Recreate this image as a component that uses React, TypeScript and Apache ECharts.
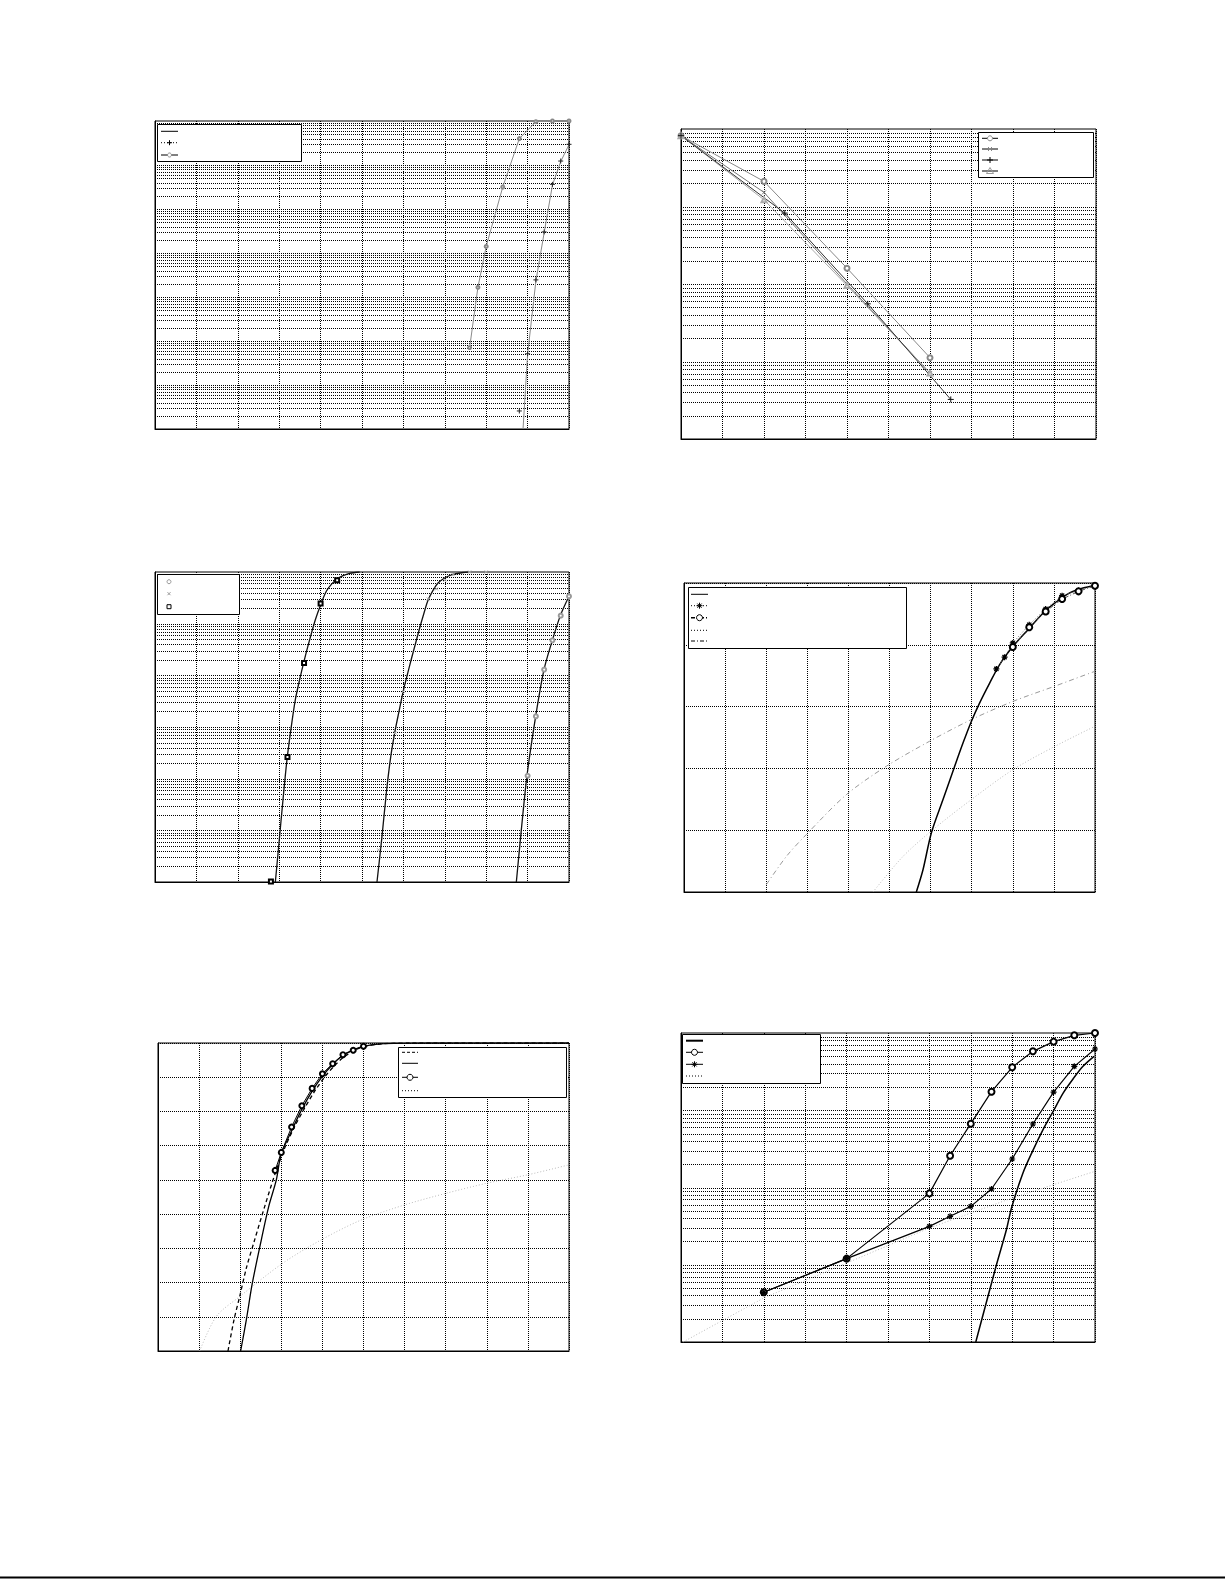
import React, { useEffect, useRef } from "react";
import * as echarts from "echarts";

// ---------- Panel 1 (top-left, log y 1e-7..1) ----------
const p1TheoryX = [8.89, 9.0, 9.2, 9.4, 9.6, 9.8, 10.0];
const p1TheoryY = [1e-7, 5.0e-6, 2.3e-4, 2.9e-3, 3.5e-2, 0.12, 0.29];
const p1SimX = [8.8, 9.0, 9.2, 9.4, 9.6, 9.8, 10.0];
const p1SimY = [2.57e-7, 5.13e-6, 2.45e-4, 3.02e-3, 3.63e-2, 0.123, 0.295];
const p1RefX = [7.6, 7.8, 8.0, 8.4, 8.8, 9.2, 9.6, 10.0];
const p1RefY = [7.08e-6, 1.66e-4, 1.41e-3, 3.16e-2, 0.398, 0.966, 1.0, 1.0];

// ---------- Panel 2 (top-right, log y 1e-4..1) ----------
const p2CircX = [0, 2, 4, 6];
const p2CircY = [0.82, 0.211, 0.016, 1.12e-3];
const p2CrossX = [0, 2, 4, 6];
const p2CrossY = [0.82, 0.152, 0.01, 7.08e-4];
const p2PlusX = [0, 2.5, 4.5, 6.5];
const p2PlusY = [0.82, 0.0822, 5.55e-3, 3.24e-4];
const p2TriX = [0, 2, 4, 6];
const p2TriY = [0.82, 0.122, 9.55e-3, 7.08e-4];

// ---------- Panel 3 (mid-left, log y 1e-6..1) ----------
const p3C1X = [2.907, 2.995, 3.092, 3.188, 3.293, 3.39, 3.494, 3.599, 3.736, 3.873, 4.002, 4.138, 4.275, 4.404, 4.541, 4.702, 4.944];
const p3C1Y = [1e-6, 5.69e-6, 3.93e-5, 2.33e-4, 1.03e-3, 3.38e-3, 8.24e-3, 1.87e-2, 4.9e-2, 0.119, 0.233, 0.423, 0.594, 0.733, 0.849, 0.942, 1.0];
const p3SqX = [2.8, 3.2, 3.6, 4.0, 4.4];
const p3SqY = [1.02e-6, 2.63e-4, 1.74e-2, 0.245, 0.692];
const p3C2X = [5.362, 5.483, 5.588, 5.684, 5.789, 5.894, 5.99, 6.095, 6.192, 6.296, 6.393, 6.498, 6.594, 6.715, 6.836, 6.997, 7.198, 7.56];
const p3C2Y = [1e-6, 7.66e-6, 5.28e-5, 2.33e-4, 7.66e-4, 2.01e-3, 4.69e-3, 1.03e-2, 2.07e-2, 4.23e-2, 8.24e-2, 0.161, 0.283, 0.442, 0.612, 0.766, 0.902, 1.0];
const p3XmX = [5.4, 5.8, 6.0, 6.6, 6.8, 7.0, 7.2, 7.6, 8.0];
const p3XmY = [4.2e-6, 7.66e-4, 4.9e-3, 0.3, 0.47, 0.69, 0.89, 1.0, 1.0];
const p3C3X = [8.728, 8.849, 8.985, 9.195, 9.396, 9.597, 9.791, 10.0];
const p3C3Y = [1e-6, 1.03e-5, 1.14e-4, 1.61e-3, 1.29e-2, 4.75e-2, 0.143, 0.338];
const p3CircX = [9.0, 9.2, 9.4, 9.6, 9.8, 10.0];
const p3CircY = [1.14e-4, 1.61e-3, 1.29e-2, 4.75e-2, 0.143, 0.338];

// ---------- Panel 4 (mid-right, linear y 0..1) ----------
const p4TheoryX = [5.653, 5.815, 6.018, 6.302, 6.586, 6.788, 6.991, 7.194, 7.437, 7.68, 8.005, 8.37, 8.775, 9.019, 9.384, 9.708, 9.992];
const p4TheoryY = [0.0, 0.072, 0.191, 0.299, 0.407, 0.482, 0.552, 0.612, 0.676, 0.736, 0.795, 0.849, 0.908, 0.935, 0.968, 0.984, 0.991];
const p4StarX = [7.6, 7.8, 8.0, 8.4, 8.8, 9.2, 9.6, 10.0];
const p4StarY = [0.722, 0.76, 0.806, 0.865, 0.916, 0.959, 0.976, 0.991];
const p4CircX = [8.0, 8.4, 8.8, 9.2, 9.6, 10.0];
const p4CircY = [0.793, 0.857, 0.908, 0.948, 0.973, 0.991];
const p4DotX = [4.599, 5.328, 6.058, 6.991, 8.005, 9.019, 9.992];
const p4DotY = [0.0, 0.115, 0.202, 0.299, 0.396, 0.471, 0.536];
const p4DashDotX = [2.003, 2.49, 2.976, 3.95, 4.923, 5.977, 6.991, 8.005, 9.019, 9.992];
const p4DashDotY = [0.024, 0.115, 0.186, 0.315, 0.407, 0.488, 0.558, 0.617, 0.666, 0.714];

// ---------- Panel 5 (bottom-left, linear y 10..100) ----------
const p5DashX = [1.703, 1.849, 1.987, 2.149, 2.352, 2.595, 2.855, 3.082, 3.325, 3.569, 3.812, 4.055, 4.298, 4.542, 4.785, 5.028, 5.515, 6.164, 10.0];
const p5DashY = [10, 19.1, 25.9, 34.2, 42.5, 52.2, 62.0, 69.3, 75.6, 81.0, 85.9, 90.06, 93.4, 96.1, 97.86, 99.03, 99.8, 100, 100];
const p5SolidX = [2.011, 2.149, 2.295, 2.514, 2.693, 2.879, 2.993, 3.244, 3.487, 3.747, 3.998, 4.242, 4.485, 4.728, 4.996, 5.353, 5.758, 6.57, 10.0];
const p5SolidY = [10, 19.1, 29.8, 42.5, 52.2, 60.0, 67.35, 74.17, 80.31, 85.87, 90.25, 93.66, 96.3, 97.86, 99.03, 99.7, 99.9, 100, 100];
const p5CircX = [2.85, 3.0, 3.25, 3.5, 3.75, 4.0, 4.25, 4.5, 4.75, 5.0];
const p5CircY = [62.77, 68.03, 75.44, 81.68, 86.74, 91.03, 93.96, 96.59, 97.86, 99.03];
const p5DotX = [1.014, 1.419, 1.987, 3.041, 3.974, 4.947, 6.002, 7.015, 8.029, 9.002, 10.0];
const p5DotY = [10, 20.1, 25.9, 35.7, 42.5, 48.3, 52.7, 56.1, 59.1, 61.5, 64.4];

// ---------- Panel 6 (bottom-right, log y 1e-4..1) ----------
const p6TheoryX = [7.12, 7.62, 7.86, 7.99, 8.26, 8.49, 8.745, 8.99, 9.23, 9.485, 9.71, 9.976];
const p6TheoryY = [1e-4, 1.0e-3, 2.84e-3, 5.6e-3, 1.54e-2, 2.94e-2, 5.61e-2, 9.68e-2, 0.167, 0.261, 0.371, 0.499];
const p6CircX = [2, 4, 6, 6.5, 7, 7.5, 8, 8.5, 9, 9.5, 10];
const p6CircY = [4.4e-4, 1.2e-3, 8.39e-3, 2.58e-2, 6.7e-2, 0.174, 0.36, 0.579, 0.773, 0.933, 1.0];
const p6StarX = [2, 4, 6, 6.5, 7, 7.5, 8, 8.5, 9, 9.5, 10];
const p6StarY = [4.4e-4, 1.2e-3, 3.14e-3, 4.24e-3, 5.7e-3, 9.57e-3, 2.34e-2, 6.64e-2, 0.172, 0.37, 0.621];
const p6DotX = [0.05, 2, 4, 6, 8, 10];
const p6DotY = [1.0e-4, 3.72e-4, 1.05e-3, 2.99e-3, 7.31e-3, 1.62e-2];

// ---------- layout ----------
const GRIDS = [
  { left: 155, top: 121, width: 414, height: 308 },
  { left: 681, top: 129, width: 415, height: 310 },
  { left: 155, top: 572, width: 414, height: 310 },
  { left: 684, top: 583, width: 411, height: 309 },
  { left: 158, top: 1043, width: 411, height: 308 },
  { left: 681, top: 1033, width: 414, height: 309 },
];

const DOT = [1, 1];
const PLUS = "path://M5,0L5,10M0,5L10,5";
const XMARK = "path://M0,0L10,10M10,0L0,10";
const STAR = "path://M5,0L5,10M0,5L10,5M1.5,1.5L8.5,8.5M8.5,1.5L1.5,8.5";

function zip(xs: number[], ys: number[]) {
  return xs.map((x, k) => [x, ys[k]]);
}

function xAxis(i: number) {
  return {
    type: "value",
    gridIndex: i,
    min: 0,
    max: 10,
    interval: 1,
    axisLabel: { show: false },
    axisTick: { show: false },
    axisLine: { show: true, lineStyle: { color: "#000", width: 1 } },
    splitLine: { show: true, lineStyle: { color: "#000", type: DOT, width: 1 } },
  };
}

function yLog(i: number, min: number) {
  return {
    type: "log",
    logBase: 10,
    gridIndex: i,
    min,
    max: 1,
    axisLabel: { show: false },
    axisTick: { show: false },
    axisLine: { show: true, lineStyle: { color: "#000", width: 1 } },
    splitLine: { show: false },
  };
}

function yLin(i: number, min: number, max: number, interval: number) {
  return {
    type: "value",
    gridIndex: i,
    min,
    max,
    interval,
    axisLabel: { show: false },
    axisTick: { show: false },
    axisLine: { show: true, lineStyle: { color: "#000", width: 1 } },
    splitLine: { show: true, lineStyle: { color: "#000", type: DOT, width: 1 } },
  };
}

// horizontal grid lines of a log axis (decades and 2..9 sub-decades)
function logGridSeries(i: number, minExp: number) {
  const vals: number[] = [];
  for (let e = minExp; e < 0; e++) {
    for (let k = 1; k <= 9; k++) {
      if (e === minExp && k === 1) continue;
      vals.push(k * Math.pow(10, e));
    }
  }
  return {
    type: "custom",
    xAxisIndex: i,
    yAxisIndex: i,
    silent: true,
    z: 1,
    data: vals.map((v) => [0, v]),
    encode: { x: 0, y: 1 },
    renderItem: (params: any, api: any) => {
      const v = api.value(1);
      const a = api.coord([0, v]);
      const b = api.coord([10, v]);
      const y = Math.round(a[1]) + 0.5;
      return {
        type: "line",
        shape: { x1: a[0], y1: y, x2: b[0], y2: y },
        style: { stroke: "#000", lineWidth: 1, lineDash: [1, 1], fill: null },
      };
    },
  };
}

function ser(i: number, xs: number[], ys: number[], opts: any) {
  return {
    type: "line",
    xAxisIndex: i,
    yAxisIndex: i,
    data: zip(xs, ys),
    silent: true,
    z: 3,
    emphasis: { disabled: true },
    showSymbol: opts.symbol ? true : false,
    symbol: "none",
    ...opts,
  };
}

function mk(color: string, size = 1) {
  return { color, borderColor: color, borderWidth: size };
}

// ---------- legend graphics ----------
function marker(kind: string, cx: number, cy: number, color: string, r = 3) {
  const st = { stroke: color, lineWidth: 1, fill: "none" };
  const L = (x1: number, y1: number, x2: number, y2: number) => ({
    type: "line",
    z: 102,
    shape: { x1, y1, x2, y2 },
    style: { stroke: color, lineWidth: 1 },
  });
  if (kind === "circle") return [{ type: "circle", z: 102, shape: { cx, cy, r }, style: { ...st, fill: "#fff" } }];
  if (kind === "square") return [{ type: "rect", z: 102, shape: { x: cx - r, y: cy - r, width: 2 * r, height: 2 * r }, style: st }];
  if (kind === "tri")
    return [{ type: "polygon", z: 102, shape: { points: [[cx, cy - r - 1], [cx - r - 1, cy + r], [cx + r + 1, cy + r]] }, style: st }];
  if (kind === "plus") return [L(cx - r, cy, cx + r, cy), L(cx, cy - r, cx, cy + r)];
  if (kind === "x") return [L(cx - r, cy - r, cx + r, cy + r), L(cx + r, cy - r, cx - r, cy + r)];
  if (kind === "star")
    return [
      L(cx - r, cy, cx + r, cy),
      L(cx, cy - r, cx, cy + r),
      L(cx - r * 0.7, cy - r * 0.7, cx + r * 0.7, cy + r * 0.7),
      L(cx + r * 0.7, cy - r * 0.7, cx - r * 0.7, cy + r * 0.7),
    ];
  return [];
}

function legend(box: number[], lx: number[], entries: any[]) {
  const els: any[] = [
    {
      type: "rect",
      z: 100,
      shape: { x: box[0] + 0.5, y: box[1] + 0.5, width: box[2], height: box[3] },
      style: { fill: "#fff", stroke: "#000", lineWidth: 1 },
    },
  ];
  entries.forEach((e) => {
    if (e.line) {
      els.push({
        type: "line",
        z: 101,
        shape: { x1: lx[0], y1: e.y, x2: lx[1], y2: e.y },
        style: { stroke: e.line.color || "#000", lineWidth: e.line.width || 1, lineDash: e.line.dash || null },
      });
    }
    if (e.marker) els.push(...marker(e.marker, (lx[0] + lx[1]) / 2, e.y, e.mcolor || "#000", e.r || 3));
  });
  return els;
}

const SOLID = { color: "#000", width: 1 };
const DOTTED = { color: "#000", width: 1, dash: [1, 2] };
const DASHED = { color: "#000", width: 1, dash: [3, 2] };
const DASHDOT = { color: "#000", width: 1, dash: [4, 2, 1, 2] };

export default function App() {
  const ref = useRef<HTMLDivElement>(null);
  useEffect(() => {
    if (!ref.current) return;
    const chart = echarts.init(ref.current, null, { renderer: "svg" });
    const grids = GRIDS.map((g) => ({
      ...g,
      show: true,
      borderColor: "#000",
      borderWidth: 1,
      backgroundColor: "#fff",
      containLabel: false,
    }));
    const xAxes = GRIDS.map((_, i) => xAxis(i));
    const yAxes = [yLog(0, 1e-7), yLog(1, 1e-4), yLog(2, 1e-6), yLin(3, 0, 1, 0.2), yLin(4, 10, 100, 10), yLog(5, 1e-4)];

    const series: any[] = [
      // grid lines for log panels
      logGridSeries(0, -7),
      logGridSeries(1, -4),
      logGridSeries(2, -6),
      logGridSeries(5, -4),

      // panel 1
      ser(0, p1TheoryX, p1TheoryY, { lineStyle: { color: "#8a8a8a", width: 1 } }),
      ser(0, p1SimX, p1SimY, { symbol: PLUS, symbolSize: 5, itemStyle: mk("#222"), lineStyle: { opacity: 0 } }),
      ser(0, p1RefX, p1RefY, { symbol: "emptyCircle", symbolSize: 3, itemStyle: mk("#888"), lineStyle: { color: "#8a8a8a", width: 1 } }),

      // panel 2
      ser(1, p2CircX, p2CircY, { symbol: "emptyCircle", symbolSize: 5, itemStyle: mk("#888"), lineStyle: { color: "#888", width: 1 } }),
      ser(1, p2CrossX, p2CrossY, { symbol: XMARK, symbolSize: 4, itemStyle: mk("#777"), lineStyle: { color: "#777", width: 1 } }),
      ser(1, p2TriX, p2TriY, { symbol: "emptyTriangle", symbolSize: 5, itemStyle: mk("#aaa"), lineStyle: { color: "#aaa", width: 1 } }),
      ser(1, p2PlusX, p2PlusY, { symbol: PLUS, symbolSize: 6, itemStyle: mk("#111"), lineStyle: { color: "#333", width: 1 } }),

      // panel 3
      ser(2, p3C1X, p3C1Y, { smooth: 0.3, lineStyle: { color: "#111", width: 1.3 } }),
      ser(2, p3C2X, p3C2Y, { smooth: 0.3, lineStyle: { color: "#111", width: 1.3 } }),
      ser(2, p3C3X, p3C3Y, { smooth: 0.3, lineStyle: { color: "#111", width: 1.3 } }),
      ser(2, p3SqX, p3SqY, { symbol: "emptyRect", symbolSize: 4, itemStyle: mk("#000"), lineStyle: { opacity: 0 } }),
      ser(2, p3XmX, p3XmY, { symbol: XMARK, symbolSize: 3, itemStyle: mk("#aaa"), lineStyle: { opacity: 0 } }),
      ser(2, p3CircX, p3CircY, { symbol: "emptyCircle", symbolSize: 4, itemStyle: mk("#999"), lineStyle: { opacity: 0 } }),

      // panel 4
      ser(3, p4DashDotX, p4DashDotY, { smooth: 0.3, lineStyle: { color: "#999", width: 1, type: [5, 3, 1, 3] } }),
      ser(3, p4DotX, p4DotY, { smooth: 0.3, lineStyle: { color: "#bbb", width: 1, type: [1, 2] } }),
      ser(3, p4TheoryX, p4TheoryY, { smooth: 0.3, lineStyle: { color: "#000", width: 1.5 } }),
      ser(3, p4StarX, p4StarY, { symbol: STAR, symbolSize: 6, itemStyle: mk("#000", 1.3), lineStyle: { color: "#777", width: 1, type: [1, 2] } }),
      ser(3, p4CircX, p4CircY, { symbol: "emptyCircle", symbolSize: 6, itemStyle: mk("#000", 1.3), lineStyle: { color: "#555", width: 1, type: [4, 2, 1, 2] } }),

      // panel 5
      ser(4, p5DotX, p5DotY, { smooth: 0.3, lineStyle: { color: "#bbb", width: 1, type: [1, 2] } }),
      ser(4, p5DashX, p5DashY, { smooth: 0.3, lineStyle: { color: "#000", width: 1.3, type: [4, 3] } }),
      ser(4, p5SolidX, p5SolidY, { smooth: 0.3, lineStyle: { color: "#000", width: 1.3 } }),
      ser(4, p5CircX, p5CircY, { symbol: "emptyCircle", symbolSize: 5, itemStyle: mk("#000"), lineStyle: { color: "#000", width: 1 } }),

      // panel 6
      ser(5, p6DotX, p6DotY, { lineStyle: { color: "#bbb", width: 1, type: [1, 2] } }),
      ser(5, p6TheoryX, p6TheoryY, { smooth: 0.3, lineStyle: { color: "#000", width: 1.5 } }),
      ser(5, p6CircX, p6CircY, { symbol: "emptyCircle", symbolSize: 6, itemStyle: mk("#000", 1.2), lineStyle: { color: "#000", width: 1.2 } }),
      ser(5, p6StarX, p6StarY, { symbol: STAR, symbolSize: 6, itemStyle: mk("#000", 1.2), lineStyle: { color: "#000", width: 1.2 } }),
    ];

    const graphic: any[] = [
      ...legend([157, 124, 144, 37], [161, 178], [
        { y: 131.3, line: SOLID },
        { y: 142.7, line: DOTTED, marker: "plus", mcolor: "#000", r: 2.5 },
        { y: 155, line: SOLID, marker: "circle", mcolor: "#888", r: 2 },
      ]),
      ...legend([978, 132, 115, 45], [982, 998], [
        { y: 138.3, line: SOLID, marker: "circle", mcolor: "#888", r: 2.5 },
        { y: 149, line: SOLID, marker: "x", mcolor: "#888", r: 2 },
        { y: 160, line: SOLID, marker: "plus", mcolor: "#000", r: 3 },
        { y: 171, line: SOLID, marker: "tri", mcolor: "#999", r: 2.5 },
      ]),
      ...legend([157, 574, 82, 40], [163, 175], [
        { y: 581.7, marker: "circle", mcolor: "#999", r: 2 },
        { y: 593.7, marker: "x", mcolor: "#999", r: 1.5 },
        { y: 606.7, marker: "square", mcolor: "#000", r: 2 },
      ]),
      ...legend([688, 587, 218, 61], [691, 708], [
        { y: 594.3, line: SOLID },
        { y: 605.7, line: DOTTED, marker: "star", mcolor: "#000", r: 3 },
        { y: 617.7, line: { color: "#000", width: 1.5, dash: [4, 2, 1, 2] }, marker: "circle", mcolor: "#000", r: 3 },
        { y: 630.3, line: DOTTED },
        { y: 641, line: DASHDOT },
      ]),
      ...legend([398, 1047, 168, 50], [402, 418], [
        { y: 1052.3, line: DASHED },
        { y: 1063.3, line: SOLID },
        { y: 1077.3, line: SOLID, marker: "circle", mcolor: "#000", r: 3 },
        { y: 1090.7, line: DOTTED },
      ]),
      ...legend([682, 1034, 138, 49], [686, 703], [
        { y: 1040.7, line: { color: "#000", width: 2 } },
        { y: 1052.3, line: SOLID, marker: "circle", mcolor: "#000", r: 3 },
        { y: 1064.3, line: SOLID, marker: "star", mcolor: "#000", r: 3 },
        { y: 1076, line: DOTTED },
      ]),
      {
        type: "line",
        z: 100,
        shape: { x1: 0, y1: 1577.5, x2: 1225, y2: 1577.5 },
        style: { stroke: "#000", lineWidth: 2 },
      },
    ];

    chart.setOption({
      animation: false,
      backgroundColor: "#fff",
      grid: grids,
      xAxis: xAxes,
      yAxis: yAxes,
      series,
      graphic,
    });
    return () => chart.dispose();
  }, []);
  return (
    <div
      ref={ref}
      style={{ position: "absolute", left: 0, top: 0, width: 1225, height: 1585, background: "#fff" }}
    />
  );
}
